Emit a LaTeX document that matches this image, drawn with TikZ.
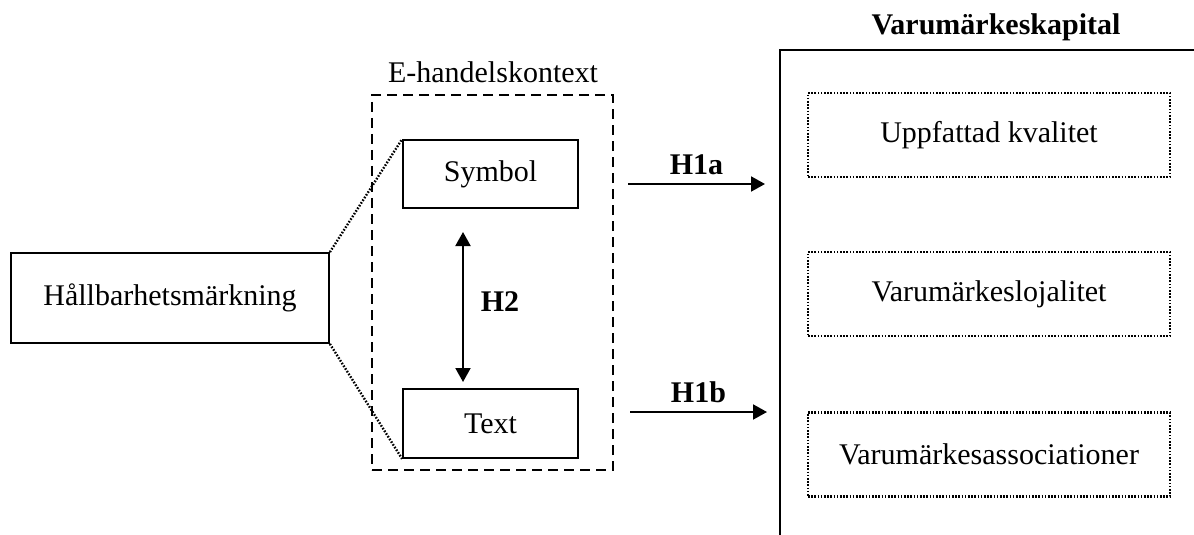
\documentclass[tikz,border=0pt]{standalone}
\usepackage{fontspec}
\setmainfont{Liberation Serif}
\usetikzlibrary{arrows.meta}
\begin{document}
\begin{tikzpicture}[
    x=0.5pt, y=-0.5pt,
    font=\fontsize{15}{18}\selectfont,
    box/.style={draw, line width=0.9pt, inner sep=0pt},
    ram/.style={draw, line width=0.9pt, dash pattern=on 5pt off 3pt},
    prick/.style={line width=1.2pt, dash pattern=on 0.8pt off 0.8pt},
    dimbox/.style={draw, prick, minimum width=181pt, minimum height=42pt, inner sep=0pt},
    hyp/.style={font=\fontsize{15}{18}\selectfont\bfseries},
    pil/.style={line width=1pt, -{Triangle[length=7pt,width=7.5pt]}}
    ]
    \useasboundingbox (0,0) rectangle (1194,535);
    % vänster
    \node[box, minimum width=159pt, minimum height=45pt] (hall) at (170,298) {Hållbarhetsmärkning};
    \node[ram, minimum width=120.5pt, minimum height=187.5pt] (kontext) at (492.5,282.5) {};
    \node (kontextrubrik) at (493,72) {E-handelskontext};
    \node[box, minimum width=87.5pt, minimum height=34pt] (symbol) at (490.5,174) {Symbol};
    \node[box, minimum width=87.5pt, minimum height=34.5pt] (text) at (490.5,423.5) {Text};
    \draw[prick] (hall.north east) -- (symbol.north west);
    \draw[prick] (hall.south east) -- (text.south west);
    % H2
    \coordinate (h2upp) at (463,232);
    \coordinate (h2ner) at (463,382);
    \draw[pil, {Triangle[length=7pt,width=7.5pt]}-{Triangle[length=7pt,width=7.5pt]}] (h2upp) -- (h2ner);
    \node[hyp] (h2) at (500,302) {H2};
    % H1a, H1b
    \coordinate (h1astart) at (628,184);
    \coordinate (h1aslut) at (765,184);
    \coordinate (h1bstart) at (630,412);
    \coordinate (h1bslut) at (767,412);
    \draw[pil] (h1astart) -- node[hyp, above=1pt] (h1a) {H1a} (h1aslut);
    \draw[pil] (h1bstart) -- node[hyp, above=1pt] (h1b) {H1b} (h1bslut);
    % höger
    \coordinate (ramhoger) at (1194,50);
    \coordinate (ramhorn) at (780,50);
    \coordinate (ramnere) at (780,535);
    \draw[line width=1pt] (ramhoger) -- (ramhorn) -- (ramnere);
    \node[hyp] (kapital) at (996,27) {Varumärkeskapital};
    \node[dimbox] (kvalitet) at (989,135) {Uppfattad kvalitet};
    \node[dimbox] (lojalitet) at (989,294) {Varumärkeslojalitet};
    \node[dimbox] (associationer) at (989,454.5) {Varumärkesassociationer};
\end{tikzpicture}
\end{document}
